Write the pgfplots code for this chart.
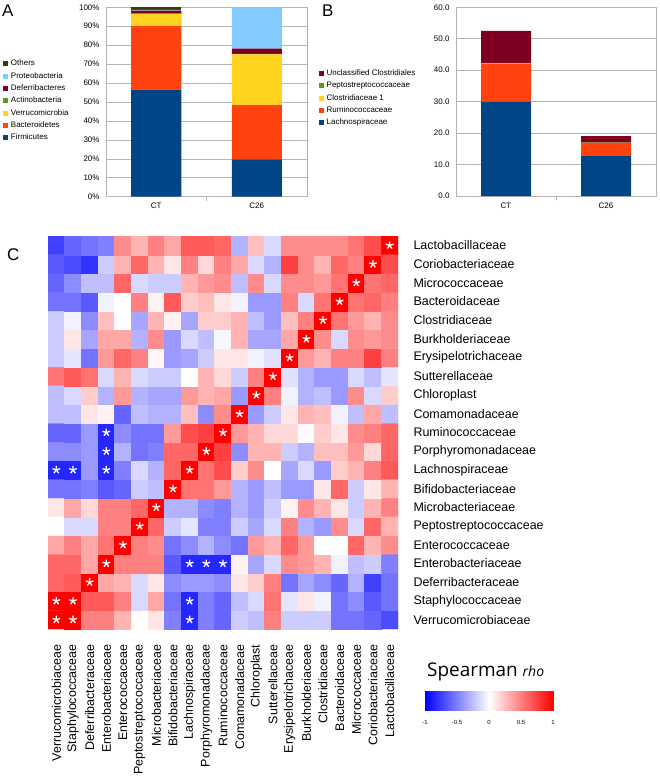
\documentclass[border=0pt]{standalone}
\usepackage{pgfplots}
\pgfplotsset{compat=1.18}
\usepackage{fontspec}
\setmainfont{Liberation Sans}
\newfontfamily\osans{Open Sans}
\definecolor{cBlue}{HTML}{004586}
\definecolor{cOrange}{HTML}{FF420E}
\definecolor{cYellow}{HTML}{FFD320}
\definecolor{cGreen}{HTML}{579D1C}
\definecolor{cDarkRed}{HTML}{7E0021}
\definecolor{cLightBlue}{HTML}{83CAFF}
\definecolor{cOlive}{HTML}{314004}
\definecolor{gridgray}{HTML}{B3B3B3}
\pgfplotsset{/pgf/number format/assume math mode=true}
\pgfplotsset{
 lochart/.style={scale only axis, ybar stacked, bar width=50bp,
  xmin=-0.5, xmax=1.5, ymin=0, xtick={0,1}, xticklabels={CT,C26},
  ymajorgrids, grid style={draw=gridgray, line width=0.6pt},
  axis line style={draw=gridgray, line width=0.6pt},
  major tick length=0pt, xtick pos=left, ytick pos=left,
  tick label style={font=\fontsize{8}{9}\selectfont},
  xticklabel shift=3bp, yticklabel shift=3bp,
  extra x ticks={0.5}, extra x tick labels={},
  extra x tick style={major tick length=4bp, tick align=outside, major tick style={draw=gridgray, line width=0.6pt}},
  legend cell align=left, reverse legend,
  legend image code/.code={\fill[##1] (0bp,-2.5bp) rectangle (5bp,2.5bp);},
  legend style={draw=none, fill=none, inner sep=0pt, outer sep=0pt, row sep=4.35bp, column sep=2.7bp,
   nodes={inner sep=0pt, text height=6bp, text depth=2bp, font=\fontsize{8}{9}\selectfont}}
 }
}
\begin{document}
\begin{tikzpicture}
\useasboundingbox (0,0) rectangle (660bp,-778bp);
% Panel letters
\node[anchor=north west, inner sep=0pt, font=\fontsize{17}{18}\selectfont] at (2bp,-5bp) {A};
\node[anchor=north west, inner sep=0pt, font=\fontsize{17}{18}\selectfont] at (322bp,-5bp) {B};
\node[anchor=north west, inner sep=0pt, font=\fontsize{17}{18}\selectfont] at (7bp,-248bp) {C};

% Panel A
\begin{axis}[lochart, at={(106bp,-196.7bp)}, anchor=south west, width=201bp, height=189.4bp,
  ymax=100, ytick={0,10,...,100}, yticklabel={\pgfmathprintnumber{\tick}\%},
  legend style={at={(-0.511,0.7233)}, anchor=north west}]
\addplot[fill=cBlue, draw=none] coordinates {(0,56.5) (1,19.7)};
\addlegendentry{Firmicutes}
\addplot[fill=cOrange, draw=none] coordinates {(0,33.5) (1,28.6)};
\addlegendentry{Bacteroidetes}
\addplot[fill=cYellow, draw=none] coordinates {(0,6.5) (1,26.9)};
\addlegendentry{Verrucomicrobia}
\addplot[fill=cGreen, draw=none] coordinates {(0,0.2) (1,0.2)};
\addlegendentry{Actinobacteria}
\addplot[fill=cDarkRed, draw=none] coordinates {(0,1.6) (1,2.8)};
\addlegendentry{Deferribacteres}
\addplot[fill=cLightBlue, draw=none] coordinates {(0,0.3) (1,21.8)};
\addlegendentry{Proteobacteria}
\addplot[fill=cOlive, draw=none] coordinates {(0,1.4) (1,0)};
\addlegendentry{Others}
\end{axis}

% Panel B
\begin{axis}[lochart, at={(456bp,-196bp)}, anchor=south west, width=200bp, height=188.7bp,
  ymax=60, ytick={0,10,...,60},
  yticklabel style={/pgf/number format/.cd, fixed, fixed zerofill, precision=1},
  legend style={at={(-0.685,0.671)}, anchor=north west}]
\addplot[fill=cBlue, draw=none] coordinates {(0,30.0) (1,12.7)};
\addlegendentry{Lachnospiraceae}
\addplot[fill=cOrange, draw=none] coordinates {(0,12.0) (1,4.1)};
\addlegendentry{Ruminococcaceae}
\addplot[fill=cYellow, draw=none] coordinates {(0,0.1) (1,0.1)};
\addlegendentry{Clostridiaceae 1}
\addplot[fill=cGreen, draw=none] coordinates {(0,0.1) (1,0.05)};
\addlegendentry{Peptostreptococcaceae}
\addplot[fill=cDarkRed, draw=none] coordinates {(0,10.3) (1,2.1)};
\addlegendentry{Unclassified Clostridiales}
\end{axis}

% Panel C heatmap
\begin{axis}[at={(48bp,-629bp)}, anchor=south west, scale only axis, width=350bp, height=393bp,
  xmin=-0.5, xmax=20.5, ymin=-0.5, ymax=20.5,
  axis line style={draw=none}, major tick length=0pt,
  colormap={bwr}{rgb255=(0,0,255) rgb255=(255,255,255) rgb255=(255,0,0)},
  point meta min=-1, point meta max=1,
  xtick={0,...,20}, ytick={0,...,20},
  xticklabels={Verrucomicrobiaceae,Staphylococcaceae,Deferribacteraceae,Enterobacteriaceae,Enterococcaceae,Peptostreptococcaceae,Microbacteriaceae,Bifidobacteriaceae,Lachnospiraceae,Porphyromonadaceae,Ruminococcaceae,Comamonadaceae,Chloroplast,Sutterellaceae,Erysipelotrichaceae,Burkholderiaceae,Clostridiaceae,Bacteroidaceae,Micrococcaceae,Coriobacteriaceae,Lactobacillaceae},
  yticklabels={Verrucomicrobiaceae,Staphylococcaceae,Deferribacteraceae,Enterobacteriaceae,Enterococcaceae,Peptostreptococcaceae,Microbacteriaceae,Bifidobacteriaceae,Lachnospiraceae,Porphyromonadaceae,Ruminococcaceae,Comamonadaceae,Chloroplast,Sutterellaceae,Erysipelotrichaceae,Burkholderiaceae,Clostridiaceae,Bacteroidaceae,Micrococcaceae,Coriobacteriaceae,Lactobacillaceae},
  tick label style={font=\fontsize{12.5}{13}\selectfont},
  xticklabel style={rotate=90, anchor=east},
  yticklabel pos=right, yticklabel style={anchor=west},
  xticklabel shift=12bp, yticklabel shift=12bp]
\addplot[matrix plot*, mesh/cols=21, point meta=explicit] table[meta=c, row sep=\\] {
x y c\\
0 0 1\\ 1 0 1\\ 2 0 0.5\\ 3 0 0.5\\ 4 0 0.3\\ 5 0 0\\ 6 0 0.1\\ 7 0 -0.5\\ 8 0 -0.85\\ 9 0 -0.5\\ 10 0 -0.6\\ 11 0 -0.2\\ 12 0 -0.25\\ 13 0 0.5\\ 14 0 -0.2\\ 15 0 -0.2\\ 16 0 -0.2\\ 17 0 -0.55\\ 18 0 -0.55\\ 19 0 -0.6\\ 20 0 -0.7\\
0 1 1\\ 1 1 1\\ 2 1 0.65\\ 3 1 0.65\\ 4 1 0.5\\ 5 1 -0.15\\ 6 1 0.35\\ 7 1 -0.55\\ 8 1 -0.85\\ 9 1 -0.5\\ 10 1 -0.6\\ 11 1 -0.25\\ 12 1 -0.15\\ 13 1 0.55\\ 14 1 -0.1\\ 15 1 0.1\\ 16 1 -0.05\\ 17 1 -0.55\\ 18 1 -0.45\\ 19 1 -0.65\\ 20 1 -0.55\\
0 2 0.6\\ 1 2 0.65\\ 2 2 1\\ 3 2 0.35\\ 4 2 0.3\\ 5 2 -0.15\\ 6 2 0.1\\ 7 2 -0.45\\ 8 2 -0.4\\ 9 2 -0.4\\ 10 2 -0.45\\ 11 2 0.1\\ 12 2 0.2\\ 13 2 0.5\\ 14 2 -0.55\\ 15 2 -0.35\\ 16 2 -0.45\\ 17 2 -0.6\\ 18 2 -0.3\\ 19 2 -0.75\\ 20 2 -0.55\\
0 3 0.6\\ 1 3 0.6\\ 2 3 0.35\\ 3 3 1\\ 4 3 0.5\\ 5 3 0.5\\ 6 3 0.5\\ 7 3 -0.65\\ 8 3 -0.85\\ 9 3 -0.85\\ 10 3 -0.85\\ 11 3 0.05\\ 12 3 -0.35\\ 13 3 -0.15\\ 14 3 0.45\\ 15 3 0.4\\ 16 3 0.3\\ 17 3 -0.05\\ 18 3 -0.25\\ 19 3 -0.2\\ 20 3 -0.5\\
0 4 0.35\\ 1 4 0.5\\ 2 4 0.35\\ 3 4 0.55\\ 4 4 1\\ 5 4 0.5\\ 6 4 0.45\\ 7 4 -0.55\\ 8 4 -0.45\\ 9 4 -0.3\\ 10 4 -0.45\\ 11 4 -0.55\\ 12 4 0.4\\ 13 4 0.3\\ 14 4 0.6\\ 15 4 0.4\\ 16 4 0\\ 17 4 0\\ 18 4 0.6\\ 19 4 0.3\\ 20 4 0.45\\
0 5 0\\ 1 5 -0.15\\ 2 5 -0.15\\ 3 5 0.5\\ 4 5 0.5\\ 5 5 1\\ 6 5 0.6\\ 7 5 -0.2\\ 8 5 -0.1\\ 9 5 -0.5\\ 10 5 -0.5\\ 11 5 -0.2\\ 12 5 -0.35\\ 13 5 -0.15\\ 14 5 0.5\\ 15 5 -0.3\\ 16 5 -0.4\\ 17 5 0.45\\ 18 5 -0.15\\ 19 5 0.6\\ 20 5 0.3\\
0 6 0.1\\ 1 6 0.35\\ 2 6 0.15\\ 3 6 0.5\\ 4 6 0.5\\ 5 6 0.6\\ 6 6 1\\ 7 6 -0.3\\ 8 6 -0.3\\ 9 6 -0.45\\ 10 6 -0.5\\ 11 6 -0.3\\ 12 6 -0.4\\ 13 6 -0.2\\ 14 6 0.05\\ 15 6 0.45\\ 16 6 0.3\\ 17 6 0.1\\ 18 6 -0.2\\ 19 6 0.3\\ 20 6 0.5\\
0 7 -0.55\\ 1 7 -0.55\\ 2 7 -0.5\\ 3 7 -0.65\\ 4 7 -0.6\\ 5 7 -0.2\\ 6 7 -0.25\\ 7 7 1\\ 8 7 0.55\\ 9 7 0.55\\ 10 7 0.4\\ 11 7 -0.3\\ 12 7 -0.4\\ 13 7 -0.25\\ 14 7 -0.4\\ 15 7 -0.4\\ 16 7 0.1\\ 17 7 0.6\\ 18 7 -0.2\\ 19 7 0.1\\ 20 7 0.3\\
0 8 -0.85\\ 1 8 -0.85\\ 2 8 -0.4\\ 3 8 -0.85\\ 4 8 -0.5\\ 5 8 -0.15\\ 6 8 -0.3\\ 7 8 0.6\\ 8 8 1\\ 9 8 0.55\\ 10 8 0.7\\ 11 8 0.2\\ 12 8 0.45\\ 13 8 0\\ 14 8 -0.35\\ 15 8 -0.15\\ 16 8 -0.4\\ 17 8 0.2\\ 18 8 0.3\\ 19 8 0.5\\ 20 8 0.65\\
0 9 -0.45\\ 1 9 -0.45\\ 2 9 -0.4\\ 3 9 -0.85\\ 4 9 -0.3\\ 5 9 -0.55\\ 6 9 -0.5\\ 7 9 0.6\\ 8 9 0.6\\ 9 9 1\\ 10 9 0.75\\ 11 9 -0.45\\ 12 9 0.3\\ 13 9 0.3\\ 14 9 -0.2\\ 15 9 -0.3\\ 16 9 0.25\\ 17 9 0.25\\ 18 9 0.4\\ 19 9 0.15\\ 20 9 0.6\\
0 10 -0.6\\ 1 10 -0.6\\ 2 10 -0.4\\ 3 10 -0.85\\ 4 10 -0.45\\ 5 10 -0.55\\ 6 10 -0.55\\ 7 10 0.4\\ 8 10 0.7\\ 9 10 0.75\\ 10 10 1\\ 11 10 0.4\\ 12 10 0.3\\ 13 10 0.15\\ 14 10 0.15\\ 15 10 -0.02\\ 16 10 0.2\\ 17 10 0.1\\ 18 10 0.45\\ 19 10 0.5\\ 20 10 0.6\\
0 11 -0.25\\ 1 11 -0.25\\ 2 11 0.1\\ 3 11 0.05\\ 4 11 -0.6\\ 5 11 -0.25\\ 6 11 -0.3\\ 7 11 -0.3\\ 8 11 0.25\\ 9 11 -0.45\\ 10 11 0.45\\ 11 11 1\\ 12 11 -0.4\\ 13 11 -0.2\\ 14 11 0.1\\ 15 11 0.3\\ 16 11 0.25\\ 17 11 -0.05\\ 18 11 -0.25\\ 19 11 0.35\\ 20 11 -0.25\\
0 12 -0.25\\ 1 12 -0.15\\ 2 12 0.2\\ 3 12 -0.3\\ 4 12 0.4\\ 5 12 -0.3\\ 6 12 -0.35\\ 7 12 -0.35\\ 8 12 0.4\\ 9 12 0.3\\ 10 12 0.35\\ 11 12 -0.4\\ 12 12 1\\ 13 12 0.5\\ 14 12 -0.05\\ 15 12 -0.3\\ 16 12 -0.25\\ 17 12 -0.4\\ 18 12 0.45\\ 19 12 -0.15\\ 20 12 0.2\\
0 13 0.55\\ 1 13 0.65\\ 2 13 0.55\\ 3 13 -0.15\\ 4 13 0.3\\ 5 13 -0.15\\ 6 13 -0.2\\ 7 13 -0.2\\ 8 13 0\\ 9 13 0.3\\ 10 13 0.15\\ 11 13 -0.2\\ 12 13 0.5\\ 13 13 1\\ 14 13 -0.12\\ 15 13 -0.3\\ 16 13 -0.4\\ 17 13 -0.4\\ 18 13 -0.15\\ 19 13 -0.25\\ 20 13 -0.1\\
0 14 -0.2\\ 1 14 -0.1\\ 2 14 -0.55\\ 3 14 0.4\\ 4 14 0.6\\ 5 14 0.5\\ 6 14 0.03\\ 7 14 -0.4\\ 8 14 -0.35\\ 9 14 -0.2\\ 10 14 0.1\\ 11 14 0.1\\ 12 14 -0.05\\ 13 14 -0.12\\ 14 14 1\\ 15 14 0.4\\ 16 14 0.3\\ 17 14 0.5\\ 18 14 0.5\\ 19 14 0.75\\ 20 14 0.5\\
0 15 -0.2\\ 1 15 0.1\\ 2 15 -0.35\\ 3 15 0.35\\ 4 15 0.35\\ 5 15 -0.3\\ 6 15 0.45\\ 7 15 -0.4\\ 8 15 -0.15\\ 9 15 -0.25\\ 10 15 -0.03\\ 11 15 0.3\\ 12 15 -0.35\\ 13 15 -0.35\\ 14 15 0.35\\ 15 15 1\\ 16 15 0.45\\ 17 15 -0.15\\ 18 15 0.45\\ 19 15 0.4\\ 20 15 0.45\\
0 16 -0.2\\ 1 16 -0.05\\ 2 16 -0.45\\ 3 16 0.25\\ 4 16 0\\ 5 16 -0.35\\ 6 16 0.3\\ 7 16 0.05\\ 8 16 -0.35\\ 9 16 0.2\\ 10 16 0.2\\ 11 16 0.3\\ 12 16 -0.25\\ 13 16 -0.4\\ 14 16 0.25\\ 15 16 0.5\\ 16 16 1\\ 17 16 0.55\\ 18 16 0.4\\ 19 16 0.3\\ 20 16 0.45\\
0 17 -0.55\\ 1 17 -0.55\\ 2 17 -0.65\\ 3 17 -0.05\\ 4 17 0\\ 5 17 0.5\\ 6 17 0.05\\ 7 17 0.65\\ 8 17 0.2\\ 9 17 0.25\\ 10 17 0.1\\ 11 17 -0.05\\ 12 17 -0.4\\ 13 17 -0.4\\ 14 17 0.5\\ 15 17 -0.15\\ 16 17 0.55\\ 17 17 1\\ 18 17 0.55\\ 19 17 0.6\\ 20 17 0.5\\
0 18 -0.6\\ 1 18 -0.45\\ 2 18 -0.25\\ 3 18 -0.25\\ 4 18 0.6\\ 5 18 -0.15\\ 6 18 -0.2\\ 7 18 -0.2\\ 8 18 0.3\\ 9 18 0.4\\ 10 18 0.45\\ 11 18 -0.25\\ 12 18 0.45\\ 13 18 -0.15\\ 14 18 0.45\\ 15 18 0.45\\ 16 18 0.4\\ 17 18 0.55\\ 18 18 1\\ 19 18 0.55\\ 20 18 0.6\\
0 19 -0.65\\ 1 19 -0.7\\ 2 19 -0.8\\ 3 19 -0.2\\ 4 19 0.3\\ 5 19 0.6\\ 6 19 0.3\\ 7 19 0.1\\ 8 19 0.5\\ 9 19 0.15\\ 10 19 0.5\\ 11 19 0.35\\ 12 19 -0.15\\ 13 19 -0.3\\ 14 19 0.75\\ 15 19 0.45\\ 16 19 0.3\\ 17 19 0.6\\ 18 19 0.5\\ 19 19 1\\ 20 19 0.7\\
0 20 -0.75\\ 1 20 -0.6\\ 2 20 -0.55\\ 3 20 -0.5\\ 4 20 0.45\\ 5 20 0.3\\ 6 20 0.5\\ 7 20 0.35\\ 8 20 0.65\\ 9 20 0.65\\ 10 20 0.6\\ 11 20 -0.3\\ 12 20 0.25\\ 13 20 -0.15\\ 14 20 0.45\\ 15 20 0.45\\ 16 20 0.45\\ 17 20 0.45\\ 18 20 0.55\\ 19 20 0.7\\ 20 20 1\\
};
\addplot[only marks, mark=star, mark size=4bp, mark options={draw=white, line width=1.3pt}] coordinates {
(0,0) (1,1) (2,2) (3,3) (4,4) (5,5) (6,6) (7,7) (8,8) (9,9) (10,10) (11,11) (12,12) (13,13) (14,14) (15,15) (16,16) (17,17) (18,18) (19,19) (20,20)
(0,8) (1,8) (3,8) (3,9) (3,10) (8,3) (9,3) (10,3) (8,1) (8,0) (0,1) (1,0)};
\end{axis}

% Colour bar
\begin{axis}[at={(425bp,-710bp)}, anchor=south west, scale only axis, width=128bp, height=19.3bp,
  xmin=-1, xmax=1, ymin=0, ymax=1, ytick=\empty,
  xtick={-1,-0.5,0,0.5,1}, xticklabels={-1,-0.5,0,0.5,1},
  axis line style={draw=none}, major tick length=0pt,
  tick label style={font=\fontsize{6}{7}\selectfont}, xticklabel shift=7bp,
  colormap={bwr}{rgb255=(0,0,255) rgb255=(255,255,255) rgb255=(255,0,0)},
  point meta min=-1, point meta max=1]
\addplot[surf, shader=interp, mesh/cols=3, point meta=explicit] coordinates {
(-1,0) [-1] (0,0) [0] (1,0) [1]
(-1,1) [-1] (0,1) [0] (1,1) [1]};
\end{axis}
\node[anchor=base west, inner sep=0pt] at (427bp,-676bp) {\osans\fontsize{19}{20}\selectfont Spearman \fontsize{14}{15}\selectfont\itshape rho};
\end{tikzpicture}
\end{document}
